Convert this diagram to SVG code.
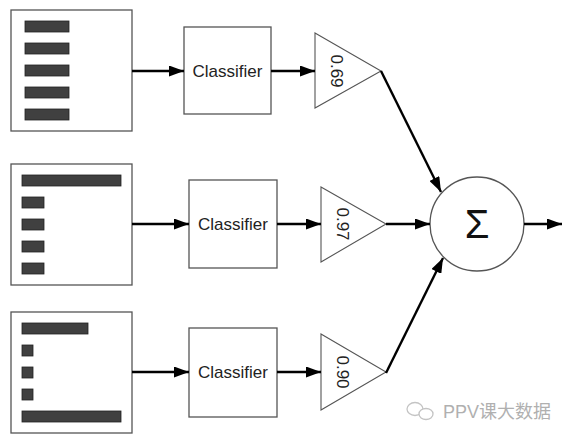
<svg xmlns="http://www.w3.org/2000/svg" width="572" height="440" viewBox="0 0 572 440">
<style>
.frame{fill:#fff;stroke:#555;stroke-width:1.3}
.bar{fill:#404040;stroke:#222;stroke-width:0.8}
.box{fill:#fff;stroke:#555;stroke-width:1.3}
.tri{fill:#fff;stroke:#555;stroke-width:1.1}
.lbl{font-family:"Liberation Sans",Arial,sans-serif;font-size:17px;fill:#222}
.conn{stroke:#000;stroke-width:2.4;fill:none;marker-end:url(#ah)}
.wm{font-family:"Liberation Sans","Noto Sans CJK SC",sans-serif;font-size:18px;fill:#b0b0b0}
</style>
<defs>
<marker id="ah" viewBox="0 0 15 11" refX="15" refY="5.5" markerWidth="15" markerHeight="11" markerUnits="userSpaceOnUse" orient="auto">
<path d="M0,0 L15,5.5 L0,11 Z" fill="#000"/>
</marker>
</defs>
<rect width="572" height="440" fill="#fff"/>
<g id="input1">
<rect class="frame" x="11" y="10" width="121" height="121"/>
<rect class="bar" x="25" y="21" width="44" height="11"/>
<rect class="bar" x="25" y="43" width="44" height="11"/>
<rect class="bar" x="25" y="65" width="44" height="11"/>
<rect class="bar" x="25" y="87" width="44" height="11"/>
<rect class="bar" x="25" y="109" width="44" height="11"/>
</g>
<g id="input2">
<rect class="frame" x="11" y="164" width="121" height="121"/>
<rect class="bar" x="22" y="175" width="99" height="11"/>
<rect class="bar" x="22" y="197" width="22" height="11"/>
<rect class="bar" x="22" y="219" width="22" height="11"/>
<rect class="bar" x="22" y="241" width="22" height="11"/>
<rect class="bar" x="22" y="263" width="22" height="11"/>
</g>
<g id="input3">
<rect class="frame" x="11" y="312" width="121" height="121"/>
<rect class="bar" x="22" y="323" width="66" height="11"/>
<rect class="bar" x="22" y="345" width="11" height="11"/>
<rect class="bar" x="22" y="367" width="11" height="11"/>
<rect class="bar" x="22" y="389" width="11" height="11"/>
<rect class="bar" x="22" y="411" width="99" height="11"/>
</g>
<g id="classifier1">
<rect class="box" x="184" y="27" width="87" height="87"/>
<text class="lbl" x="227.5" y="77" text-anchor="middle">Classifier</text>
</g>
<g id="classifier2">
<rect class="box" x="189" y="180" width="88" height="88"/>
<text class="lbl" x="233" y="230" text-anchor="middle">Classifier</text>
</g>
<g id="classifier3">
<rect class="box" x="189" y="328" width="88" height="89"/>
<text class="lbl" x="233" y="378" text-anchor="middle">Classifier</text>
</g>
<g id="weight1">
<polygon class="tri" points="315,33 381,71 315,108"/>
<text class="lbl" text-anchor="middle" transform="translate(331,71) rotate(90)">0.69</text>
</g>
<g id="weight2">
<polygon class="tri" points="321,187 386,224 321,262"/>
<text class="lbl" text-anchor="middle" transform="translate(337,224) rotate(90)">0.97</text>
</g>
<g id="weight3">
<polygon class="tri" points="321,334 386,372 321,410"/>
<text class="lbl" text-anchor="middle" transform="translate(337,372) rotate(90)">0.90</text>
</g>
<g id="sum">
<circle cx="477" cy="224" r="47" fill="#fff" stroke="#555" stroke-width="1.3"/>
<text x="477" y="238" text-anchor="middle" font-family="Liberation Sans,Arial,sans-serif" font-size="40" fill="#111">Σ</text>
</g>
<g id="connectors">
<line class="conn" x1="132" y1="71" x2="184" y2="71"/>
<line class="conn" x1="132" y1="224" x2="189" y2="224"/>
<line class="conn" x1="132" y1="372" x2="189" y2="372"/>
<line class="conn" x1="271" y1="71" x2="315" y2="71"/>
<line class="conn" x1="277" y1="224" x2="321" y2="224"/>
<line class="conn" x1="277" y1="372" x2="321" y2="372"/>
<line class="conn" x1="381" y1="71" x2="441" y2="192"/>
<line class="conn" x1="386" y1="224" x2="430" y2="224"/>
<line class="conn" x1="386" y1="373" x2="443" y2="258"/>
<line class="conn" x1="524" y1="224" x2="562" y2="224"/>
</g>
<g id="watermark">
<ellipse cx="415" cy="409" rx="8" ry="6.5" fill="none" stroke="#c4c4c4" stroke-width="1.3"/>
<ellipse cx="426" cy="414" rx="7" ry="5.5" fill="#fff" stroke="#c4c4c4" stroke-width="1.3"/>
<text class="wm" x="443" y="418">PPV课大数据</text>
</g>
</svg>
